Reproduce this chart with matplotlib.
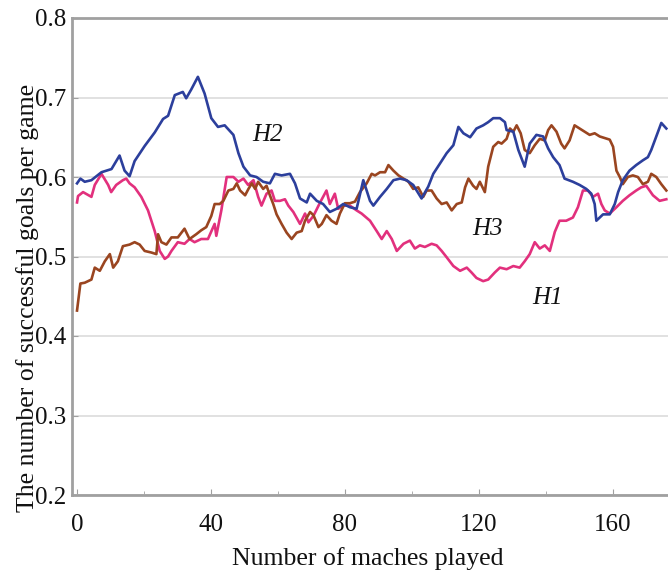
import matplotlib
matplotlib.use("Agg")
import matplotlib.pyplot as plt
from matplotlib.ticker import MultipleLocator

# ---- data ----
h2_x = [0, 1, 2.3, 4.3, 7.3, 10.3, 12.7, 14.2, 15.7, 17.2, 20.2, 23.2, 25.7, 27.2, 29.2, 31.6, 32.6,
        34.1, 36.1, 38.1, 40.1, 42.1, 44.1, 46.7, 48.2, 49.7, 51.7, 53.6, 55.6, 57.6, 59.1, 61.1,
        63.6, 65.1, 66.6, 68.6, 69.6, 71.6, 73.5, 75.5, 77.5, 79.5, 81.5, 83.5, 85.5, 87.5, 88.5,
        90.5, 92.5, 94.5, 96.5, 98.4, 100.4, 102.9, 104.9, 106.4, 108.4, 110.4, 112.4, 113.9, 115.4,
        117.4, 119.3, 121.3, 122.8, 124.3, 126.3, 127.8, 128.3, 130.3, 131.8, 133.7, 135.2, 137.2,
        139.2, 140.7, 142.2, 144.1, 145.6, 148.1, 150.1, 152.1, 153.6, 154.6, 155.1, 157.1, 159.1,
        160.6, 161.6, 163.0, 165.0, 167.0, 169.0, 170.5, 171.5, 173.0, 174.5, 176.0]
h2_y = [0.592, 0.598, 0.594, 0.596, 0.606, 0.610, 0.627, 0.608, 0.601, 0.620, 0.639, 0.656, 0.673,
        0.677, 0.703, 0.707, 0.699, 0.710, 0.726, 0.705, 0.674, 0.663, 0.665, 0.653, 0.630, 0.613,
        0.602, 0.600, 0.594, 0.592, 0.604, 0.602, 0.604, 0.592, 0.573, 0.568, 0.579, 0.570, 0.566,
        0.556, 0.560, 0.566, 0.562, 0.560, 0.596, 0.570, 0.564, 0.575, 0.585, 0.596, 0.598, 0.596,
        0.590, 0.573, 0.588, 0.604, 0.617, 0.630, 0.640, 0.663, 0.655, 0.650, 0.661, 0.665, 0.669,
        0.674, 0.674, 0.669, 0.659, 0.657, 0.634, 0.613, 0.642, 0.653, 0.651, 0.636, 0.625, 0.615,
        0.598, 0.594, 0.590, 0.585, 0.579, 0.566, 0.545, 0.553, 0.553, 0.566, 0.581, 0.596, 0.608,
        0.615, 0.621, 0.625, 0.634, 0.651, 0.668, 0.661]

h1_x = [0, 0.3, 1.8, 4.3, 5.3, 7.3, 9.3, 10.2, 11.7, 13.7, 14.7, 15.7, 17.2, 19.2, 21.2, 23.2, 24.7,
        26.2, 27.2, 28.2, 30.1, 32.1, 33.6, 35.1, 37.1, 39.1, 41.1, 41.6, 43.1, 44.7, 46.7, 48.2,
        49.7, 51.1, 52.7, 54.1, 55.1, 56.6, 58.1, 59.1, 60.6, 62.1, 63.1, 64.6, 66.6, 68.1, 69.1,
        70.6, 72.6, 74.5, 75.5, 77.0, 78.0, 79.5, 81.5, 83.5, 85.0, 87.5, 89.5, 91.0, 92.5, 94.0,
        95.5, 97.5, 99.4, 100.9, 102.4, 103.9, 105.9, 107.4, 108.9, 110.4, 112.4, 114.4, 116.4,
        117.8, 119.3, 121.3, 122.8, 124.8, 126.3, 128.3, 130.3, 132.2, 133.7, 135.2, 136.7, 138.2,
        139.7, 141.2, 142.7, 144.1, 146.1, 148.1, 149.6, 151.1, 152.6, 154.1, 155.6, 156.6, 157.6,
        159.1, 161.1, 163.0, 165.0, 167.0, 168.5, 170.0, 172.0, 174.0, 176.0]
h1_y = [0.568, 0.576, 0.581, 0.575, 0.590, 0.604, 0.590, 0.581, 0.590, 0.596, 0.598, 0.592, 0.587,
        0.575, 0.558, 0.532, 0.507, 0.497, 0.500, 0.507, 0.518, 0.516, 0.522, 0.518, 0.522, 0.522,
        0.541, 0.526, 0.558, 0.600, 0.600, 0.594, 0.598, 0.590, 0.596, 0.575, 0.564, 0.579, 0.583,
        0.570, 0.570, 0.572, 0.564, 0.556, 0.541, 0.554, 0.543, 0.551, 0.568, 0.583, 0.566, 0.579,
        0.560, 0.564, 0.564, 0.558, 0.554, 0.545, 0.532, 0.522, 0.532, 0.522, 0.507, 0.516, 0.520,
        0.510, 0.514, 0.512, 0.516, 0.514, 0.507, 0.499, 0.488, 0.482, 0.486, 0.480, 0.473, 0.469,
        0.471, 0.480, 0.486, 0.484, 0.488, 0.486, 0.494, 0.503, 0.518, 0.510, 0.514, 0.507, 0.531,
        0.545, 0.545, 0.549, 0.562, 0.583, 0.583, 0.575, 0.579, 0.566, 0.558, 0.554, 0.562, 0.570,
        0.577, 0.583, 0.587, 0.589, 0.577, 0.570, 0.572]

h3_x = [0, 1, 2.3, 4.3, 5.3, 6.8, 8.3, 9.8, 10.8, 12.2, 13.7, 15.7, 17.2, 18.7, 20.2, 22.2, 23.7,
        24.2, 25.2, 26.7, 28.2, 30.1, 32.1, 33.6, 35.6, 37.1, 38.6, 40.1, 41.1, 42.6, 43.7, 45.2,
        46.7, 47.7, 48.7, 50.2, 51.2, 52.2, 53.2, 54.1, 55.6, 56.6, 57.6, 58.6, 59.6, 61.1, 62.6,
        64.1, 65.6, 67.1, 68.1, 69.6, 70.6, 72.1, 73.1, 74.5, 76.0, 77.5, 78.5, 80.0, 81.5, 83.0,
        84.5, 86.5, 88.0, 89.0, 90.5, 92.0, 93.0, 94.5, 96.0, 97.5, 99.0, 100.4, 101.9, 103.4, 104.4,
        105.9, 107.4, 108.9, 110.4, 111.9, 113.4, 114.9, 115.9, 116.9, 118.3, 119.3, 120.3, 121.8,
        122.8, 124.3, 125.8, 126.8, 128.3, 129.3, 130.3, 131.3, 132.5, 133.7, 135.2, 136.7, 138.2,
        139.7, 140.7, 141.7, 143.2, 144.6, 145.6, 147.1, 148.6, 150.1, 151.6, 153.1, 154.6, 156.1,
        157.6, 159.1, 160.1, 161.1, 162.1, 163.0, 164.5, 166.0, 167.5, 169.0, 170.5, 171.5, 173.0,
        174.5, 176.0]
h3_y = [0.432, 0.466, 0.467, 0.471, 0.486, 0.482, 0.494, 0.503, 0.486, 0.494, 0.513, 0.515, 0.518,
        0.515, 0.507, 0.505, 0.503, 0.528, 0.518, 0.515, 0.524, 0.524, 0.535, 0.522, 0.528, 0.533,
        0.537, 0.551, 0.566, 0.566, 0.570, 0.583, 0.585, 0.592, 0.583, 0.577, 0.585, 0.592, 0.585,
        0.594, 0.585, 0.589, 0.577, 0.566, 0.553, 0.541, 0.530, 0.522, 0.530, 0.532, 0.545, 0.556,
        0.552, 0.537, 0.541, 0.552, 0.545, 0.541, 0.554, 0.567, 0.567, 0.569, 0.581, 0.592, 0.604,
        0.602, 0.606, 0.606, 0.615, 0.608, 0.602, 0.598, 0.594, 0.585, 0.587, 0.575, 0.583, 0.583,
        0.573, 0.566, 0.568, 0.558, 0.566, 0.568, 0.587, 0.598, 0.589, 0.585, 0.594, 0.581, 0.613,
        0.638, 0.644, 0.642, 0.648, 0.661, 0.657, 0.665, 0.655, 0.634, 0.630, 0.640, 0.648, 0.646,
        0.659, 0.665, 0.657, 0.642, 0.636, 0.646, 0.665, 0.661, 0.657, 0.653, 0.655, 0.651, 0.649,
        0.647, 0.638, 0.608, 0.600, 0.591, 0.600, 0.602, 0.600, 0.591, 0.594, 0.604, 0.600, 0.591,
        0.583]

x_ticks = [0, 40, 80, 120, 160]
y_ticks = [0.2, 0.3, 0.4, 0.5, 0.6, 0.7, 0.8]
labels = [("H2", 57, 0.653), ("H3", 122.5, 0.534), ("H1", 140.5, 0.448)]

# ---- figure ----
plt.rcParams['font.family'] = ['Liberation Serif', 'DejaVu Serif']
fig = plt.figure(figsize=(6.68, 5.72), dpi=100)
ax = fig.add_axes([72/668, 1-495/572, 1-72/668, (495-18)/572])

c_h2 = '#2c3f9c'
c_h1 = '#e2307d'
c_h3 = '#9a4520'
ax.plot(h1_x, h1_y, color=c_h1, lw=1.9, zorder=3)
ax.plot(h3_x, h3_y, color=c_h3, lw=1.9, zorder=4)
ax.plot(h2_x, h2_y, color=c_h2, lw=1.9, zorder=5)

ax.set_xlim(-1.5, 176.5)
ax.set_ylim(0.2, 0.8)
ax.set_xticks(x_ticks)
ax.xaxis.set_minor_locator(MultipleLocator(20))
ax.set_yticks(y_ticks)
ax.set_yticklabels(['0.2', '0.3', '0.4', '0.5', '0.6', '0.7', '0.8'])
ax.yaxis.grid(True, color='#dcdcdc', lw=1.2, zorder=0)
ax.set_axisbelow(True)

for s in ['left', 'top', 'bottom']:
    ax.spines[s].set_color('#a0a0a0')
    ax.spines[s].set_linewidth(2.0)
ax.spines['right'].set_visible(False)

ax.tick_params(axis='both', which='major', direction='in', length=4, color='#a0a0a0',
               labelsize=18, labelcolor='#111111')
ax.tick_params(axis='x', which='minor', direction='in', length=3, color='#a0a0a0')
ax.tick_params(axis='y', pad=4.5)
ax.tick_params(axis='x', pad=14)

ax.set_xlabel('Number of maches played', fontsize=18.5, color='#111111')
ax.xaxis.set_label_coords(0.497, -0.108)
ax.set_ylabel('The number of successful goals per game', fontsize=18.5, color='#111111',
              va='center')
ax.yaxis.set_label_coords(-0.074, 0.413)

for txt, xx, yy in labels:
    ax.text(xx, yy, txt, fontsize=18, style='italic', ha='center', va='center', color='#111111')

fig.savefig('out.png', dpi=100)
